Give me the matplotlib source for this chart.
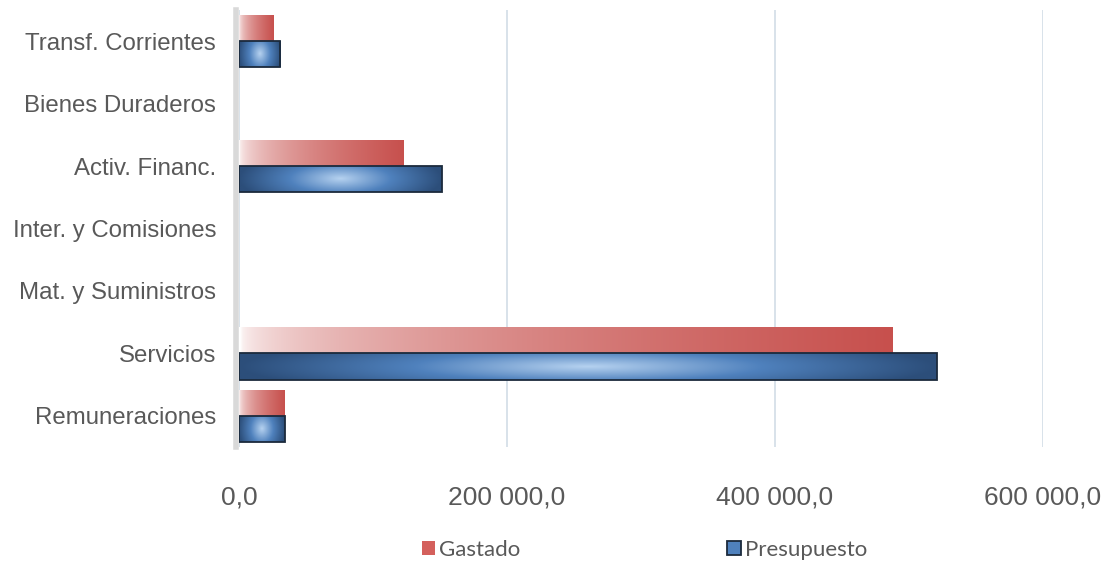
import matplotlib
matplotlib.use("Agg")
import matplotlib.pyplot as plt
import numpy as np
from matplotlib.patches import Patch
from matplotlib.ticker import FuncFormatter

# data
categorias = ["Remuneraciones", "Servicios", "Mat. y Suministros", "Inter. y Comisiones",
              "Activ. Financ.", "Bienes Duraderos", "Transf. Corrientes"]
gastado = [33600, 488000, 0, 0, 122400, 0, 26000]
presupuesto = [34300, 520900, 0, 0, 151500, 0, 30600]

RED = np.array([199, 80, 77]) / 255
BLUE_DARK = np.array([44, 78, 122]) / 255
BLUE_MID = np.array([79, 129, 189]) / 255
BLUE_LIGHT = np.array([182, 210, 240]) / 255


def red_gradient():
    t = np.linspace(0, 1, 256)
    f = t ** 0.45
    img = (1 - f)[:, None] * np.ones(3) + f[:, None] * RED
    return img[None, :, :]


def blue_gradient():
    x = np.linspace(-1, 1, 256)
    y = np.linspace(-1, 1, 40)
    X, Y = np.meshgrid(x, y)
    g = np.clip(1 - np.sqrt(X ** 2 + (0.45 * Y) ** 2), 0, 1)
    img = np.empty(X.shape + (3,))
    low = g < 0.5
    for c in range(3):
        img[..., c] = np.where(low,
                               BLUE_DARK[c] + (BLUE_MID[c] - BLUE_DARK[c]) * (g / 0.5),
                               BLUE_MID[c] + (BLUE_LIGHT[c] - BLUE_MID[c]) * ((g - 0.5) / 0.5))
    return img


fig = plt.figure(figsize=(11.06, 5.63), dpi=100)
ax = fig.add_axes([0.2161, 0.206, 0.9430 - 0.2161, 0.7764])

y = np.arange(len(categorias))
h = 0.42
bars_p = ax.barh(y - h / 2, presupuesto, height=h, facecolor="none",
                 edgecolor="#1b2a3c", linewidth=1.3, zorder=3)
bars_g = ax.barh(y + h / 2, gastado, height=h, facecolor="none",
                 edgecolor="none", zorder=3)

rg = red_gradient()
bg = blue_gradient()
for bar, val in zip(bars_g, gastado):
    if val <= 0:
        bar.set_visible(False)
        continue
    x0, y0, w, hh = bar.get_x(), bar.get_y(), bar.get_width(), bar.get_height()
    im = ax.imshow(rg, extent=[x0, x0 + w, y0, y0 + hh], aspect="auto", zorder=2,
                   interpolation="bilinear")
    im.set_clip_path(bar)
for bar, val in zip(bars_p, presupuesto):
    if val <= 0:
        bar.set_visible(False)
        continue
    x0, y0, w, hh = bar.get_x(), bar.get_y(), bar.get_width(), bar.get_height()
    im = ax.imshow(bg, extent=[x0, x0 + w, y0, y0 + hh], aspect="auto", zorder=2,
                   interpolation="bilinear")
    im.set_clip_path(bar)

ax.set_xlim(0, 600000)
ax.set_ylim(-0.5, len(categorias) - 0.5)
ax.set_xticks([0, 200000, 400000, 600000])
ax.xaxis.set_major_formatter(FuncFormatter(
    lambda v, p: "{:,.1f}".format(v).replace(",", " ").replace(".", ",")))
ax.set_yticks(y)
ax.set_yticklabels(categorias)

ax.grid(axis="x", color="#d6dfe8", linewidth=1.3, zorder=0)
for s in ["top", "right", "bottom"]:
    ax.spines[s].set_visible(False)
ax.spines["left"].set_color("#d9d9d9")
ax.spines["left"].set_linewidth(4)
ax.spines["left"].set_position(("outward", 2))
ax.spines["left"].set_zorder(4)
ax.tick_params(axis="both", length=0, colors="#595959")
ax.tick_params(axis="x", labelsize=19, pad=28)
ax.tick_params(axis="y", labelsize=17.3, pad=14.5)
for lab in ax.get_xticklabels() + ax.get_yticklabels():
    lab.set_fontfamily("Liberation Sans")

handles = [Patch(facecolor="#d4605c", edgecolor="none", label="Gastado"),
           Patch(facecolor=BLUE_MID, edgecolor="#1b2a3c", linewidth=1.3, label="Presupuesto")]
leg = fig.legend(handles=handles, loc="center", bbox_to_anchor=(0.5827, 0.023), ncol=2,
                 frameon=False, prop={"family": "Lato", "size": 16}, columnspacing=9.3,
                 handlelength=0.6, handleheight=0.6, handletextpad=0.2, labelcolor="#595959")

fig.savefig("out.png", dpi=100)
